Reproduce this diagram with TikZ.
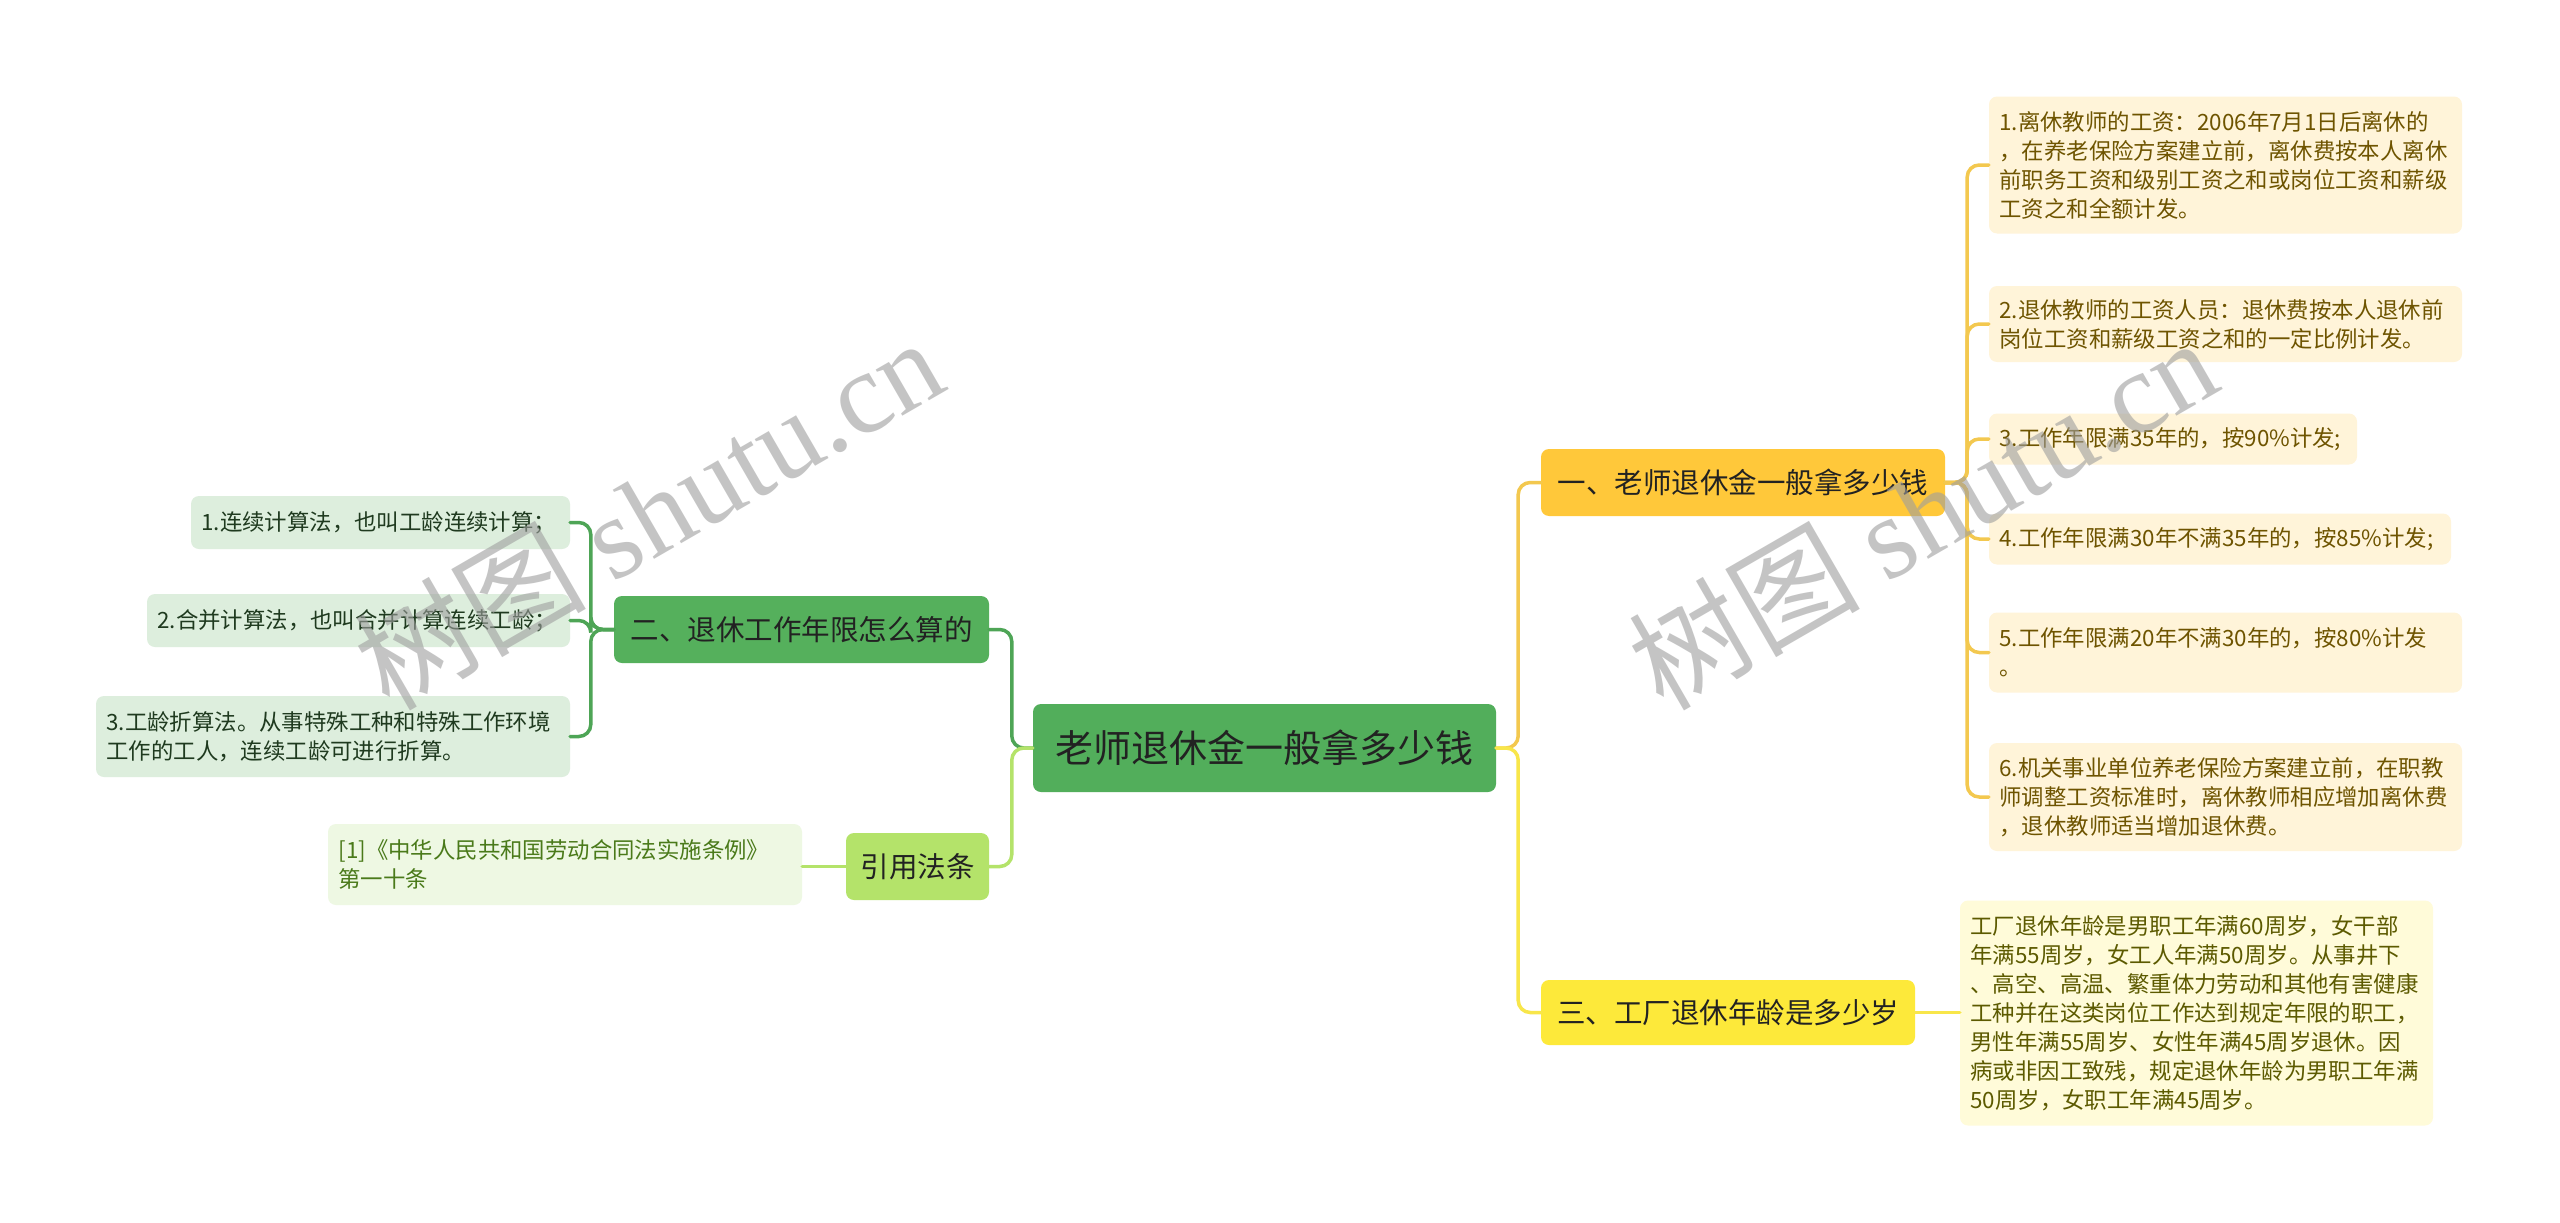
\documentclass[tikz,border=0pt]{standalone}
\usepackage{fontspec}
\setmainfont{Noto Sans CJK SC}
\newfontfamily\wmserif{Liberation Serif}
\newfontfamily\wmcjk{Noto Sans CJK SC}
\definecolor{rootfill}{HTML}{52AE5B}
\definecolor{twofill}{HTML}{55B05C}
\definecolor{reffill}{HTML}{B4E36A}
\definecolor{onefill}{HTML}{FFC83A}
\definecolor{threefill}{HTML}{FDE93A}
\definecolor{rleaffill}{HTML}{FFF4D9}
\definecolor{tleaffill}{HTML}{FFFBD9}
\definecolor{lleaffill}{HTML}{DDEEDD}
\definecolor{refleaffill}{HTML}{EEF8E3}
\definecolor{rleaftext}{HTML}{6E5400}
\definecolor{tleaftext}{HTML}{5C5A00}
\definecolor{lleaftext}{HTML}{1F3A1F}
\definecolor{refleaftext}{HTML}{4A7A1A}
\definecolor{amberline}{HTML}{F3C84F}
\definecolor{yellowline}{HTML}{F8E64A}
\definecolor{greenline}{HTML}{4EA556}
\definecolor{lgreenline}{HTML}{B4E36A}
\definecolor{darktext}{HTML}{222222}
\begin{document}
\begin{tikzpicture}[x=1pt,y=-1pt,
  box/.style={rounded corners=8, inner sep=0pt, draw=none},
  rootbox/.style={box, fill=rootfill, text=darktext, font=\fontsize{38}{44}\selectfont},
  lvlbox/.style={box, text=darktext, font=\fontsize{28.5}{34}\selectfont},
  leafbox/.style={box, align=left, font=\fontsize{22.4}{29}\selectfont},
  rleaf/.style={leafbox, fill=rleaffill, text=rleaftext},
  tleaf/.style={leafbox, fill=tleaffill, text=tleaftext},
  lleaf/.style={leafbox, fill=lleaffill, text=lleaftext},
  refleaf/.style={leafbox, fill=refleaffill, text=refleaftext},
  conn/.style={line width=3.5pt, rounded corners=12, line cap=round},
  watermark/.style={text=black!38, opacity=0.6, rotate=30, font=\fontsize{116}{120}\selectfont}
]
\fill[white] (0,0) rectangle (2560,1223);

% main nodes
\node[rootbox, minimum width=463, minimum height=88] (root) at (1264.5,748) {老师退休金一般拿多少钱};
\node[lvlbox, fill=onefill, minimum width=404, minimum height=67] (one) at (1743,482.5) {一、老师退休金一般拿多少钱};
\node[lvlbox, fill=threefill, minimum width=374, minimum height=65] (three) at (1728,1012.5) {三、工厂退休年龄是多少岁};
\node[lvlbox, fill=twofill, minimum width=375, minimum height=67] (two) at (801.5,629.5) {二、退休工作年限怎么算的};
\node[lvlbox, fill=reffill, minimum width=143, minimum height=67] (cite) at (917.5,866.5) {引用法条};

% right leaves
\node[rleaf, minimum width=473, minimum height=137, text width=452pt] (r1) at (2225.5,165)
  {1.离休教师的工资：2006年7月1日后离休的\\，在养老保险方案建立前，离休费按本人离休\\前职务工资和级别工资之和或岗位工资和薪级\\工资之和全额计发。};
\node[rleaf, minimum width=473, minimum height=76, text width=452pt] (r2) at (2225.5,324)
  {2.退休教师的工资人员：退休费按本人退休前\\岗位工资和薪级工资之和的一定比例计发。};
\node[rleaf, minimum width=368, minimum height=51, text width=347pt] (r3) at (2173,439)
  {3.工作年限满35年的，按90\%计发;};
\node[rleaf, minimum width=462, minimum height=51, text width=441pt] (r4) at (2220,539)
  {4.工作年限满30年不满35年的，按85\%计发;};
\node[rleaf, minimum width=473, minimum height=80, text width=452pt] (r5) at (2225.5,652.5)
  {5.工作年限满20年不满30年的，按80\%计发\\。};
\node[rleaf, minimum width=473, minimum height=108, text width=452pt] (r6) at (2225.5,797)
  {6.机关事业单位养老保险方案建立前，在职教\\师调整工资标准时，离休教师相应增加离休费\\，退休教师适当增加退休费。};
\node[tleaf, minimum width=473, minimum height=225, text width=452pt] (t1) at (2196.5,1013)
  {工厂退休年龄是男职工年满60周岁，女干部\\年满55周岁，女工人年满50周岁。从事井下\\、高空、高温、繁重体力劳动和其他有害健康\\工种并在这类岗位工作达到规定年限的职工，\\男性年满55周岁、女性年满45周岁退休。因\\病或非因工致残，规定退休年龄为男职工年满\\50周岁，女职工年满45周岁。};

% left leaves
\node[lleaf, minimum width=379, minimum height=53, text width=358pt] (l1) at (380.5,522.5)
  {1.连续计算法，也叫工龄连续计算；};
\node[lleaf, minimum width=423, minimum height=53, text width=402pt] (l2) at (358.5,620.5)
  {2.合并计算法，也叫合并计算连续工龄；};
\node[lleaf, minimum width=474, minimum height=81, text width=453pt] (l3) at (333,736.5)
  {3.工龄折算法。从事特殊工种和特殊工作环境\\工作的工人，连续工龄可进行折算。};
\node[refleaf, minimum width=474, minimum height=81, text width=453pt] (rl) at (565,864.5)
  {[1]《中华人民共和国劳动合同法实施条例》\\第一十条};

% connectors: root to level 1
\draw[conn, amberline] (root.east) -- ++(22,0) |- (one.west);
\draw[conn, yellowline] (root.east) -- ++(22,0) |- (three.west);
\draw[conn, greenline] (root.west) -- ++(-21,0) |- (two.east);
\draw[conn, lgreenline] (root.west) -- ++(-21,0) |- (cite.east);

% one to leaves
\foreach \n in {r1,r2,r3,r4,r5,r6}
  \draw[conn, amberline] (one.east) -- ++(22,0) |- (\n.west);
% three to leaf
\draw[conn, yellowline] (three.east) -- (t1.west |- three.east);
% two to leaves
\foreach \n in {l1,l2,l3}
  \draw[conn, greenline] (two.west) -- ++(-23,0) |- (\n.east);
% cite to leaf
\draw[conn, lgreenline] (cite.west) -- (rl.east |- cite.west);

% watermarks
\node[watermark] (wm1) at (648,512) {{\wmcjk 树图} {\wmserif shutu.cn}};
\node[watermark] (wm2) at (1922,512) {{\wmcjk 树图} {\wmserif shutu.cn}};
\end{tikzpicture}
\end{document}
